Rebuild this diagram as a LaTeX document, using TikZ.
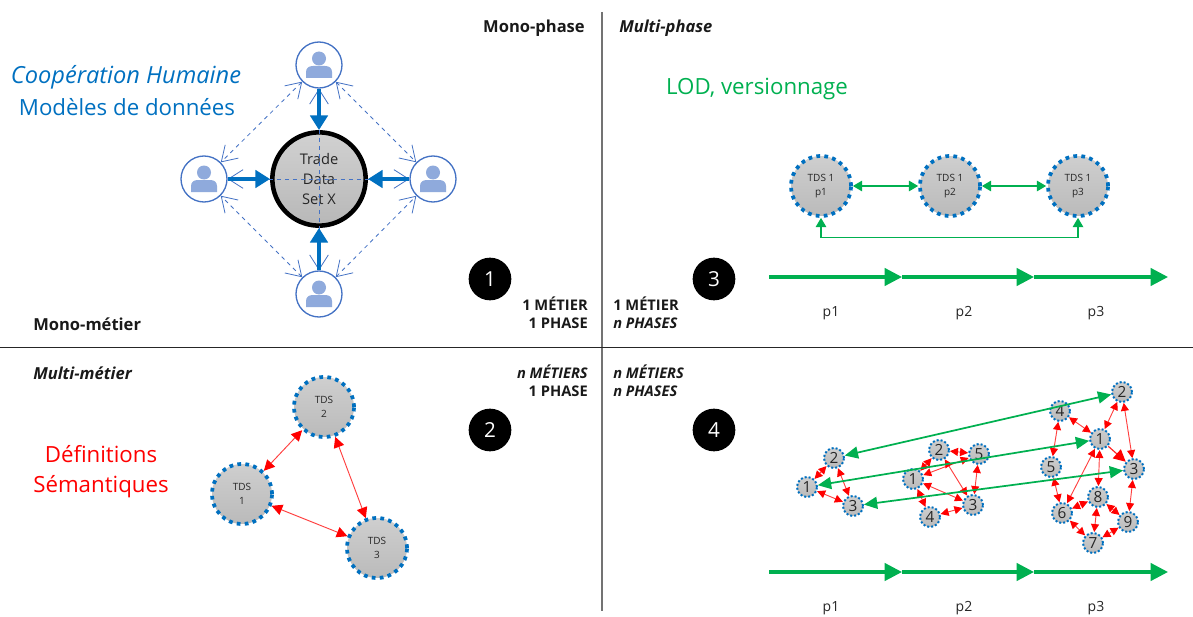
\documentclass[tikz,border=0pt]{standalone}
\usepackage{fontspec}
\setmainfont{Open Sans}
\usetikzlibrary{arrows.meta}
\definecolor{tblue}{HTML}{0070C0}
\definecolor{tgreen}{HTML}{00B050}
\definecolor{tline}{HTML}{4472C4}
\definecolor{ticon}{HTML}{8FAADC}
\tikzset{
  treenode/.style = {align=center, inner sep=0pt, text centered, text=black!85},
  tds/.style = {treenode, circle, top color=black!19, bottom color=black!27, draw=tblue, line width=2.8pt, dash pattern=on 2.8pt off 3.2pt},
  tdsbig/.style = {tds, minimum size=45pt, font=\fontsize{7.5}{11}\selectfont, execute at begin node={\rule{0pt}{8.4pt}}},
  tdssmall/.style = {tds, minimum size=15pt, line width=1.5pt, dash pattern=on 1.5pt off 1.5pt, font=\fontsize{11.5}{11.5}\selectfont},
  tuser/.style = {circle, draw=tline, fill=white, line width=1pt, minimum size=34.5pt, inner sep=0pt},
  tcore/.style = {treenode, circle, draw=black, line width=3.4pt, top color=black!18, bottom color=black!28, minimum size=70pt, font=\fontsize{11}{15}\selectfont, execute at begin node={\rule{0pt}{11.5pt}}},
  tnum/.style = {circle, fill=black, text=white, minimum size=32pt, inner sep=0pt, font=\fontsize{15.5}{15.5}\selectfont},
  thead/.style = {inner sep=0pt, font=\fontsize{12.4}{14}\selectfont\bfseries, text=black!90},
  tcase/.style = {thead, font=\fontsize{11}{13.5}\selectfont\bfseries},
  tphase/.style = {inner sep=0pt, font=\fontsize{10.5}{12}\selectfont, text=black!85},
  tbig/.style = {inner sep=0pt, font=\fontsize{16.7}{22.5}\selectfont, align=center},
  bluearrow/.style = {tblue, line width=3.6pt, -{Triangle[length=11pt,width=13pt]}},
  openarrow/.style = {tline, line width=0.6pt, dashed, {Straight Barb[length=11pt,width=14pt]}-{Straight Barb[length=11pt,width=14pt]}},
  greenarrow/.style = {tgreen, line width=0.9pt, {Triangle[length=7pt,width=8pt]}-{Triangle[length=7pt,width=8pt]}},
  greenlong/.style = {tgreen, line width=1.3pt, {Triangle[length=10pt,width=9pt]}-{Triangle[length=10pt,width=9pt]}},
  timearrow/.style = {tgreen, line width=2.4pt, -{Triangle[length=13pt,width=13pt]}},
  redbig/.style = {red!75, line width=0.7pt, {Triangle[length=8pt,width=8pt,color=red,fill=red]}-{Triangle[length=8pt,width=8pt,color=red,fill=red]}},
  redarrow/.style = {red!75, line width=0.7pt, {Triangle[length=6pt,width=6pt,color=red,fill=red]}-{Triangle[length=6pt,width=6pt,color=red,fill=red]}},
  redone/.style = {red!85, line width=0.9pt, -{Triangle[length=9pt,width=9pt,color=red,fill=red]}},
  person/.pic = {
    \fill [ticon] (0,-6.5) circle (7);
    \fill [ticon] (-13,13) -- (-13,7) .. controls (-13,3) and (-10,1) .. (-6,1) -- (6,1) .. controls (10,1) and (13,3) .. (13,7) -- (13,13) -- cycle;
  },
}
\begin{document}
\begin{tikzpicture}[x=0.75pt, y=-0.75pt]
\useasboundingbox (0,0) rectangle (1193,617);

\coordinate (V1) at (602,12);
\coordinate (V2) at (602,611);
\coordinate (H1) at (0,347);
\coordinate (H2) at (1193,347);
\draw [black!55, line width=0.9pt] (V1) -- (V2);
\draw [black!85, line width=0.6pt] (H1) -- (H2);

\node [thead, anchor=east] (MP) at (585,28) {Mono-phase};
\node [thead, anchor=west] (NP) at (619,28) {\itshape Multi-phase};
\node [thead, anchor=west] (MM) at (33,324) {Mono-métier};
\node [thead, anchor=west] (NM) at (33,373) {\itshape Multi-métier};
\node [tbig, text=tblue, font=\fontsize{17.7}{22.5}\selectfont] (CH) at (126,77) {\itshape Coopération Humaine};
\node [tbig, text=tblue] (MD) at (127,107) {Modèles de données};
\node [tbig, text=tgreen] (LOD) at (757,89) {LOD, versionnage};
\node [tbig, text=red] (DS) at (101,472) {Définitions\\Sémantiques};

\node [tcase, align=right, anchor=east] (C1) at (588,313) {1 MÉTIER\\1 PHASE};
\node [tcase, align=left, anchor=west] (C3) at (613,313) {1 MÉTIER\\\itshape n PHASES};
\node [tcase, align=right, anchor=east] (C2) at (588,381) {\itshape n MÉTIERS\\1 PHASE};
\node [tcase, align=left, anchor=west] (C4) at (613,381) {\itshape n MÉTIERS\\\itshape n PHASES};

\node [tnum] (N1) at (490,279) {1};
\node [tnum] (N2) at (490,430) {2};
\node [tnum] (N3) at (714,279) {3};
\node [tnum] (N4) at (714,430) {4};

\node [tcore] (X) at (319,179) {Trade\\Data\\Set X};
\node [tuser] (UT) at (319,65) {};
\node [tuser] (UL) at (204,179) {};
\node [tuser] (UR) at (433,179) {};
\node [tuser] (UB) at (319,294) {};
\pic at (UT) {person};
\pic at (UL) {person};
\pic at (UR) {person};
\pic at (UB) {person};
\draw [openarrow] (UT) -- (UL);
\draw [openarrow] (UT) -- (UR);
\draw [openarrow] (UB) -- (UL);
\draw [openarrow] (UB) -- (UR);
\draw [openarrow] (UT) -- (UB);
\draw [openarrow] (UL) -- (UR);
\draw [bluearrow] (UT) -- (X);
\draw [bluearrow] (UL) -- (X);
\draw [bluearrow] (UR) -- (X);
\draw [bluearrow] (UB) -- (X);

\node [tdsbig] (P1) at (821,186) {TDS 1\\p1};
\node [tdsbig] (P2) at (950,186) {TDS 1\\p2};
\node [tdsbig] (P3) at (1078,186) {TDS 1\\p3};
\draw [greenarrow] (P1) -- (P2);
\draw [greenarrow] (P2) -- (P3);
\draw [greenarrow] (P1.south) -- ++(0,20) -| (P3.south);

\coordinate (T0) at (769,277);
\coordinate (T1) at (902,277);
\coordinate (T2) at (1034,277);
\coordinate (T3) at (1168,277);
\draw [timearrow] (T0) -- (T1);
\draw [timearrow] (T1) -- (T2);
\draw [timearrow] (T2) -- (T3);
\node [tphase] (L1) at (831,313) {p1};
\node [tphase] (L2) at (964,313) {p2};
\node [tphase] (L3) at (1096,313) {p3};

\node [tdsbig] (S2) at (324,407) {TDS\\2};
\node [tdsbig] (S1) at (242,494) {TDS\\1};
\node [tdsbig] (S3) at (377,548) {TDS\\3};
\draw [redbig] (S1) -- (S2);
\draw [redbig] (S2) -- (S3);
\draw [redbig] (S1) -- (S3);

\node [tdssmall] (A1) at (807,487) {1};
\node [tdssmall] (A2) at (834,458) {2};
\node [tdssmall] (A3) at (853,506) {3};
\draw [redarrow] (A1) -- (A2);
\draw [redarrow] (A2) -- (A3);
\draw [redarrow] (A1) -- (A3);

\node [tdssmall] (B1) at (913,479) {1};
\node [tdssmall] (B2) at (939,450) {2};
\node [tdssmall] (B3) at (973,505) {3};
\node [tdssmall] (B4) at (930,517) {4};
\node [tdssmall] (B5) at (979,454) {5};
\draw [redarrow] (B1) -- (B2);
\draw [redarrow] (B2) -- (B5);
\draw [redarrow] (B1) -- (B5);
\draw [redarrow] (B2) -- (B3);
\draw [redarrow] (B5) -- (B3);
\draw [redarrow] (B1) -- (B3);
\draw [redarrow] (B1) -- (B4);
\draw [redarrow] (B4) -- (B3);

\node [tdssmall] (D1) at (1100,439) {1};
\node [tdssmall] (D2) at (1122,392) {2};
\node [tdssmall] (D3) at (1134,469) {3};
\node [tdssmall] (D4) at (1060,411) {4};
\node [tdssmall] (D5) at (1051,467) {5};
\node [tdssmall] (D6) at (1062,513) {6};
\node [tdssmall] (D7) at (1093,543) {7};
\node [tdssmall] (D8) at (1098,497) {8};
\node [tdssmall] (D9) at (1128,522) {9};
\draw [redarrow] (D2) -- (D1);
\draw [redarrow] (D2) -- (D3);
\draw [redarrow] (D4) -- (D1);
\draw [redarrow] (D4) -- (D5);
\draw [redone] (D1) -- (D3);
\draw [redarrow] (D1) -- (D6);
\draw [redarrow] (D1) -- (D8);
\draw [redarrow] (D5) -- (D6);
\draw [redarrow] (D8) -- (D6);
\draw [redarrow] (D8) -- (D9);
\draw [redarrow] (D6) -- (D7);
\draw [redarrow] (D8) -- (D7);
\draw [redarrow] (D7) -- (D9);
\draw [redarrow] (D3) -- (D9);

\draw [greenlong] (A2) -- (D2);
\draw [greenlong] (A1) -- (D1);
\draw [greenlong] (A3) -- (D3);

\coordinate (U0) at (769,572);
\coordinate (U1) at (902,572);
\coordinate (U2) at (1034,572);
\coordinate (U3) at (1168,572);
\draw [timearrow] (U0) -- (U1);
\draw [timearrow] (U1) -- (U2);
\draw [timearrow] (U2) -- (U3);
\node [tphase] (R1) at (831,608) {p1};
\node [tphase] (R2) at (964,608) {p2};
\node [tphase] (R3) at (1096,608) {p3};
\end{tikzpicture}
\end{document}
